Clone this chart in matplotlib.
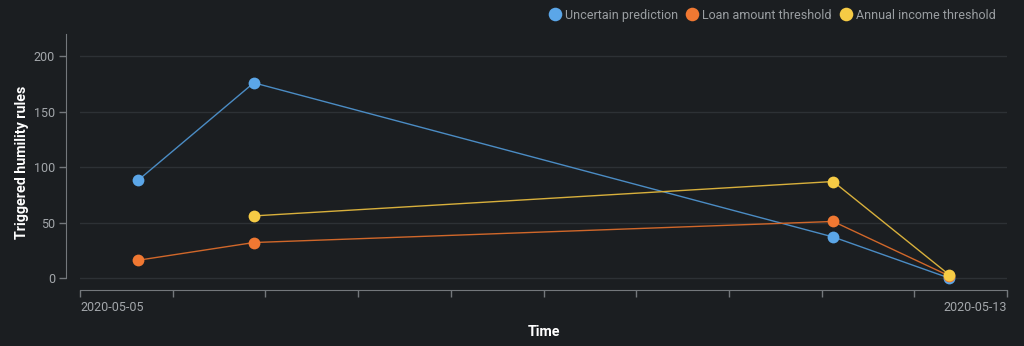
import matplotlib.pyplot as plt
import matplotlib.dates as mdates
import numpy as np
import pandas as pd

plt.rcParams['font.family'] = ['Roboto', 'DejaVu Sans']

# triggered rule counts per day
days = ['2020-05-05 12:00', '2020-05-06 12:00', '2020-05-11 12:00', '2020-05-12 12:00']
uncertain = [88, 176, 37, 0]
loan_amount = [16, 32, 51, 2]
annual_income = [np.nan, 56, 87, 3]

series_names = ['Uncertain prediction', 'Loan amount threshold', 'Annual income threshold']
dot_colors = ['#5ba6e8', '#f07832', '#f6cb45']
line_colors = ['#4b8cc4', '#d0672a', '#d8b03c']

bg = '#1b1e21'
tick_col = '#a3a7ab'
axis_col = '#74787c'

x = pd.to_datetime(days)
start = pd.Timestamp('2020-05-05')
end = pd.Timestamp('2020-05-13')

fig = plt.figure(figsize=(10.24, 3.46), dpi=100, facecolor=bg)
ax = fig.add_axes([80 / 1024, 1 - 290 / 346, 927 / 1024, 256 / 346])
ax.set_facecolor(bg)

for vals, name, dc, lc in zip([uncertain, loan_amount, annual_income], series_names, dot_colors, line_colors):
    ax.plot(x, vals, color=lc, lw=1.0, zorder=2)
    ax.plot(x, vals, 'o', color=dc, ms=8.5, mec='none', zorder=3, label=name)

ax.set_xlim(start, end)
ax.set_ylim(-10.8, 220)

# horizontal grid only
ax.set_yticks([0, 50, 100, 150, 200])
ax.grid(axis='y', color='#2d3135', lw=1)
ax.set_axisbelow(True)

# ten evenly spaced ticks, labels only at both ends
ticks = [mdates.date2num(start) + i * 0.8 for i in range(11)]
ax.set_xticks(ticks)
ax.set_xticklabels(['2020-05-05'] + [''] * 9 + ['2020-05-13'])
labs = ax.get_xticklabels()
labs[0].set_horizontalalignment('left')
labs[-1].set_horizontalalignment('right')

for s in ['top', 'right']:
    ax.spines[s].set_visible(False)
ax.spines['left'].set_position(('outward', 10))
ax.spines['left'].set_bounds(0, 220)
ax.spines['left'].set_color(axis_col)
ax.spines['bottom'].set_color(axis_col)

ax.tick_params(axis='both', colors=axis_col, labelcolor=tick_col, labelsize=9, length=5, width=1)
ax.tick_params(axis='x', pad=3)
ax.tick_params(axis='y', pad=3)

ax.set_ylabel('Triggered humility rules', color='white', fontsize=10.3, fontweight='bold', labelpad=3.5)
ax.set_xlabel('Time', color='white', fontsize=10.3, fontweight='bold', labelpad=7.5)

leg = fig.legend(loc='upper right', bbox_to_anchor=(1004 / 1024, 1.0), ncol=3, frameon=False,
                 fontsize=9, handletextpad=0.2, columnspacing=0.5, handlelength=1.2,
                 borderaxespad=0.3, markerscale=1.15)
for t in leg.get_texts():
    t.set_color('#9a9ea2')

fig.savefig('out.png', dpi=100, facecolor=bg)
